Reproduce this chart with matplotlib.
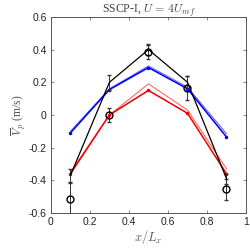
import numpy as np
import matplotlib
matplotlib.use("Agg")
from matplotlib import pyplot as plt

x = [0.1, 0.3, 0.5, 0.7, 0.9]

# simulation (black line with error bars)
sim_black = [-0.37, 0.20, 0.40, 0.20, -0.39]
sim_black_err = [0.04, 0.045, 0.035, 0.04, 0.03]

# experiment (circles)
exp_y = [-0.515, 0.0, 0.385, 0.165, -0.455]
exp_err = [0.10, 0.045, 0.045, 0.075, 0.065]

blue_thin = [-0.10, 0.16, 0.30, 0.17, -0.115]
blue_thick = [-0.11, 0.155, 0.29, 0.16, -0.135]

red_thin = [-0.35, 0.0, 0.19, 0.03, -0.33]
red_thick = [-0.36, 0.0, 0.15, 0.01, -0.36]

plt.rcParams['font.family'] = ['Liberation Sans', 'DejaVu Sans']
plt.rcParams['mathtext.fontset'] = 'cm'

fig = plt.figure(figsize=(2.51, 2.49), dpi=100)
ax = fig.add_axes([0.203, 0.145, 0.777, 0.787])

ax.plot(x, blue_thin, color='#5555ff', lw=0.7)
ax.plot(x, blue_thick, color='#0000ee', lw=1.1, marker='.', ms=3)
ax.plot(x, red_thin, color='#ff5555', lw=0.7)
ax.plot(x, red_thick, color='#ee0000', lw=1.1, marker='.', ms=3)

ax.errorbar(x, sim_black, yerr=sim_black_err, color='k', lw=0.9,
            elinewidth=0.7, ecolor='#333333', capsize=1.5)
ax.errorbar(x, exp_y, yerr=exp_err, fmt='o', mfc='none', mec='k', ms=5,
            mew=1.0, ecolor='#333333', elinewidth=0.7, capsize=1.5)

ax.set_xlim(0, 1)
ax.set_ylim(-0.6, 0.6)
ax.set_xticks([0, 0.2, 0.4, 0.6, 0.8, 1])
ax.set_xticklabels(['0', '0.2', '0.4', '0.6', '0.8', '1'])
ax.set_yticks([-0.6, -0.4, -0.2, 0, 0.2, 0.4, 0.6])
ax.set_yticklabels(['-0.6', '-0.4', '-0.2', '0', '0.2', '0.4', '0.6'])
ax.tick_params(direction='in', length=2, width=0.5, labelsize=7.5,
               top=True, right=True, color='#555555', labelcolor='#222222', pad=3)
for s in ax.spines.values():
    s.set_color('#555555')
    s.set_linewidth(0.7)

ax.set_title(r'SSCP-I, $U\,=\,4U_{mf}$', fontsize=8.5, family='Liberation Serif',
             color='#444444', pad=3)
ax.set_xlabel(r'$x/L_x$', fontsize=9, color='#555555', labelpad=1)
ax.set_ylabel(r'$\overline{V}_p$ (m/s)', fontsize=8.5, family='Liberation Serif',
              color='#555555', labelpad=0)

fig.savefig('out.png', dpi=100)
